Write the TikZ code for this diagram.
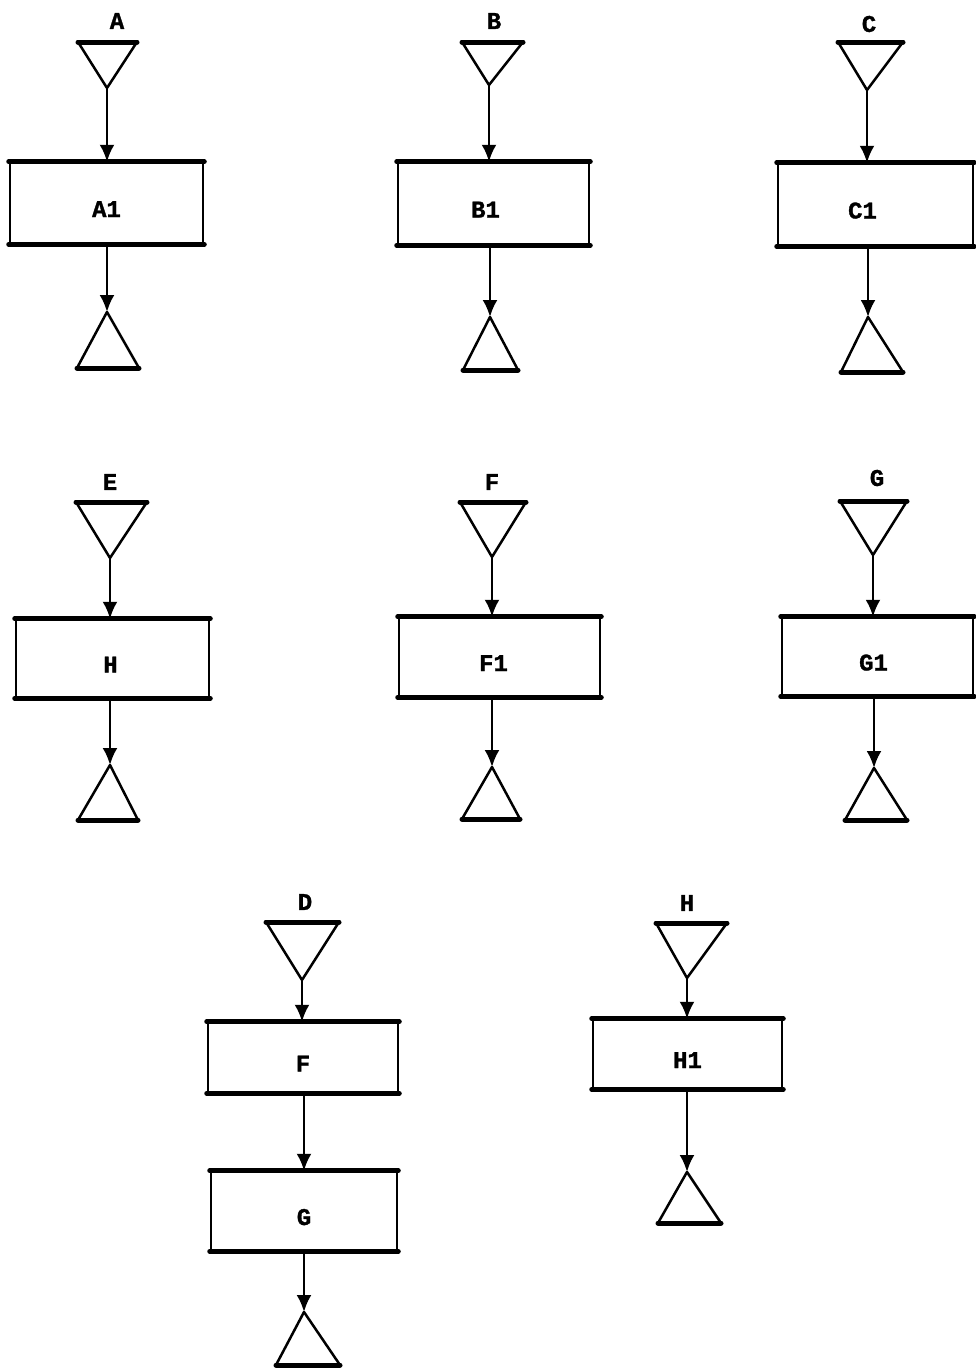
\documentclass[tikz,border=0pt]{standalone}
\usepackage{fontspec}
\newfontfamily\labfont[FakeBold=1.2]{Liberation Mono Bold}
\usetikzlibrary{arrows.meta}
\tikzset{
  thinline/.style={line width=2.5pt, line join=round},
  thickline/.style={line width=5pt, line cap=round},
  modbox/.style={draw, thinline, inner sep=0pt, font=\labfont\fontsize{24}{26}\selectfont},
  lbl/.style={font=\labfont\fontsize{24}{26}\selectfont, inner sep=0pt},
  flow/.style={thinline, -{Latex[length=17pt,width=15pt]}}
}
% \trdown{name}{xleft}{xright}{ytop}{apexx}{apexy}
\newcommand{\trdown}[6]{%
  \coordinate (#1) at (#5,#6);
  \draw[thinline] (#2,#4) -- (#1) -- (#3,#4);
  \draw[thickline] (#2,#4) -- (#3,#4);}
% \trup{name}{xleft}{xright}{ybottom}{apexx}{apexy}
\newcommand{\trup}[6]{%
  \coordinate (#1) at (#5,#6);
  \draw[thinline] (#2,#4) -- (#1) -- (#3,#4);
  \draw[thickline] (#2,#4) -- (#3,#4);}
% \modnode{name}{x1}{y1}{x2}{y2}{text}{text x offset}
\newcommand{\modnode}[7]{%
  \node[modbox, minimum width=#4pt-#2pt, minimum height=#5pt-#3pt] (#1) at ({(#2+#4)/2},{(#3+#5)/2})
    {\raisebox{-14pt}[0pt][0pt]{\makebox[0pt]{\hspace*{#7pt}\hspace*{#7pt}#6}}};
  \draw[thickline] (#1.north west) -- (#1.north east);
  \draw[thickline] (#1.south west) -- (#1.south east);}
\begin{document}
\begin{tikzpicture}[x=1pt,y=-1pt]
\useasboundingbox (0,0) rectangle (975,1368);
\fill[white] (0,0) rectangle (975,1368);

% ---- A ----
\node[lbl] (lA) at (117,21) {A};
\trdown{tA}{78}{137}{42}{107}{88}
\modnode{A1}{10}{163}{203}{243}{A1}{0}
\trup{bA}{77}{139}{368}{107}{312}
\draw[flow] (tA) -- (tA |- A1.north);
\draw[flow] (A1.south -| bA) -- (bA);

% ---- B ----
\node[lbl] (lB) at (494,21) {B};
\trdown{tB}{462}{523}{42}{489}{85}
\modnode{B1}{398}{163}{589}{244}{B1}{-8}
\trup{bB}{463}{518}{370}{490}{317}
\draw[flow] (tB) -- (tB |- B1.north);
\draw[flow] (B1.south -| bB) -- (bB);

% ---- C ----
\node[lbl] (lC) at (869,24) {C};
\trdown{tC}{838}{903}{42}{867}{90}
\modnode{C1}{778}{164}{973}{245}{C1}{-13}
\trup{bC}{841}{903}{372}{868}{317}
\draw[flow] (tC) -- (tC |- C1.north);
\draw[flow] (C1.south -| bC) -- (bC);

% ---- E / H ----
\node[lbl] (lE) at (110,482) {E};
\trdown{tE}{76}{147}{502}{110}{558}
\modnode{Hb}{16}{620}{209}{697}{H}{-2}
\trup{bE}{78}{138}{820}{110}{765}
\draw[flow] (tE) -- (tE |- Hb.north);
\draw[flow] (Hb.south -| bE) -- (bE);

% ---- F / F1 ----
\node[lbl] (lF) at (492,482) {F};
\trdown{tF}{460}{526}{502}{492}{557}
\modnode{F1}{399}{618}{600}{696}{F1}{-6}
\trup{bF}{462}{520}{819}{492}{767}
\draw[flow] (tF) -- (tF |- F1.north);
\draw[flow] (F1.south -| bF) -- (bF);

% ---- G / G1 ----
\node[lbl] (lG) at (877,478) {G};
\trdown{tG}{840}{907}{501}{873}{555}
\modnode{G1}{782}{618}{973}{695}{G1}{-4}
\trup{bG}{845}{907}{820}{874}{768}
\draw[flow] (tG) -- (tG |- G1.north);
\draw[flow] (G1.south -| bG) -- (bG);

% ---- D / F / G ----
\node[lbl] (lD) at (305,902) {D};
\trdown{tD}{266}{339}{922}{302}{980}
\modnode{Fb}{208}{1023}{398}{1092}{F}{0}
\modnode{Gb}{211}{1172}{397}{1250}{G}{0}
\trup{bD}{276}{340}{1365}{304}{1312}
\draw[flow] (tD) -- (tD |- Fb.north);
\draw[flow] (Fb.south -| bD) -- (bD |- Gb.north);
\draw[flow] (Gb.south -| bD) -- (bD);

% ---- H / H1 ----
\node[lbl] (lH) at (687,903) {H};
\trdown{tH}{656}{727}{923}{687}{978}
\modnode{H1}{593}{1020}{782}{1088}{H1}{0}
\trup{bH}{658}{721}{1223}{687}{1172}
\draw[flow] (tH) -- (tH |- H1.north);
\draw[flow] (H1.south -| bH) -- (bH);
\end{tikzpicture}
\end{document}
